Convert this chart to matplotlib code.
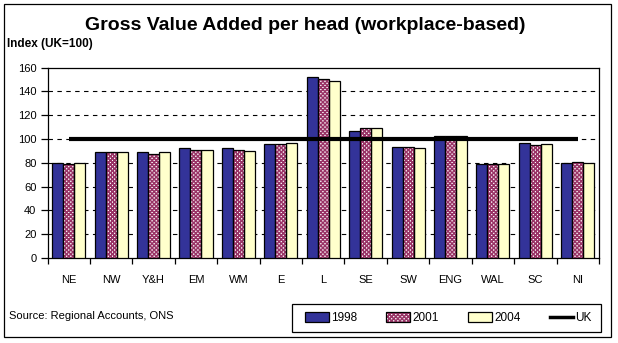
import matplotlib
matplotlib.use("Agg")
import matplotlib.pyplot as plt
import numpy as np
from matplotlib.patches import Rectangle, Patch
from matplotlib.lines import Line2D
from matplotlib.legend_handler import HandlerTuple

regions = ["NE", "NW", "Y&H", "EM", "WM", "E", "L", "SE", "SW", "ENG", "WAL", "SC", "NI"]
gva_1998 = [80, 89, 89, 92, 92, 96, 152, 107, 93, 102.5, 79, 97, 80]
gva_2001 = [79, 89, 87, 91, 91, 96, 150, 109, 93, 102.5, 79, 95, 81]
gva_2004 = [80, 89, 89, 91, 90, 97, 149, 109, 92, 102.5, 79, 96, 80]
uk_index = 100
yticks = [0, 20, 40, 60, 80, 100, 120, 140, 160]

plt.rcParams['font.family'] = ['Liberation Sans', 'DejaVu Sans']
plt.rcParams['hatch.linewidth'] = 1.1

fig = plt.figure(figsize=(6.18, 3.43), dpi=100)
ax = fig.add_axes([47.5/618, 1-258/343, (599-47.5)/618, (258-67.5)/343])

x = np.arange(len(regions))
w = 0.26
blue = '#333399'
maroon = '#993366'
yellow = '#FFFFCC'
hatch = 'xxxxxxxx'

ax.bar(x - w, gva_1998, w, color=blue, edgecolor='black', linewidth=0.9, zorder=3)
ax.bar(x, gva_2001, w, color='white', edgecolor=maroon, linewidth=0, hatch=hatch, zorder=3)
ax.bar(x, gva_2001, w, fill=False, edgecolor='black', linewidth=0.9, zorder=3.1)
ax.bar(x + w, gva_2004, w, color=yellow, edgecolor='black', linewidth=0.9, zorder=3)
ax.plot([x[0], x[-1]], [uk_index, uk_index], color='black', lw=3, zorder=4,
        solid_capstyle='butt')

ax.set_xlim(-0.5, len(regions) - 0.5)
ax.set_ylim(0, 160)
ax.set_yticks(yticks)
ax.set_yticklabels([str(v) for v in yticks], fontsize=8)
ax.set_xticks(x)
ax.set_xticklabels(regions, fontsize=8)
ax.set_xticks(np.arange(-0.5, len(regions)), minor=True)
ax.tick_params(axis='x', which='major', length=0, pad=12)
ax.tick_params(axis='x', which='minor', length=4, width=0.9, direction='out')
ax.tick_params(axis='y', which='major', length=5, width=0.9, direction='out', pad=3)
for v in yticks[1:-1]:
    ax.axhline(v, color='black', lw=0.8, linestyle=(0, (4, 4)), zorder=1)
for s in ax.spines.values():
    s.set_linewidth(0.9)

fig.text(305/618, 1-25/343, "Gross Value Added per head (workplace-based)",
         ha='center', va='center', fontsize=14, fontweight='bold')
fig.text(7/618, 1-44/343, "Index (UK=100)", ha='left', va='center',
         fontsize=8.5, fontweight='bold')
fig.text(9/618, 1-316/343, "Source: Regional Accounts, ONS", ha='left',
         va='center', fontsize=8)

fig.add_artist(Rectangle((4/618, 1-337/343), (611-4)/618, (337-4)/343,
                         transform=fig.transFigure, fill=False,
                         edgecolor='black', lw=0.9))
# legend frame
fig.add_artist(Rectangle((292/618, 1-332/343), (601-292)/618, 28/343,
                         transform=fig.transFigure, fill=False,
                         edgecolor='black', lw=0.9))

h1 = Patch(facecolor=blue, edgecolor='black', lw=0.9)
h2a = Patch(facecolor='white', edgecolor=maroon, lw=0, hatch=hatch)
h2b = Patch(fill=False, edgecolor='black', lw=0.9)
h3 = Patch(facecolor=yellow, edgecolor='black', lw=0.9)
h4 = Line2D([], [], color='black', lw=2.5)
leg = fig.legend([h1, (h2a, h2b), h3, h4], ["1998", "2001", "2004", "UK"],
                 handler_map={tuple: HandlerTuple(ndivide=1)},
                 loc='center', ncol=4, mode='expand',
                 bbox_to_anchor=(305/618, 1-332/343, (592-305)/618, 28/343),
                 fontsize=8.5, frameon=False,
                 handlelength=2.0, handleheight=0.9, handletextpad=0.2,
                 borderaxespad=0, borderpad=0)

fig.savefig("out.png", dpi=100)
